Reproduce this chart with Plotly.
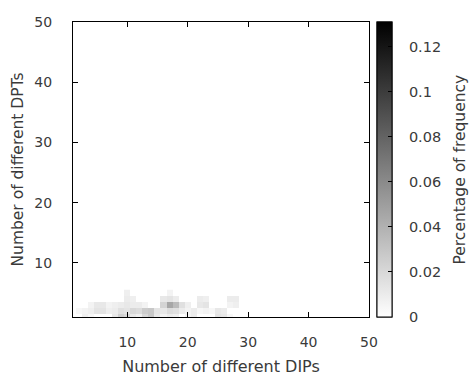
import plotly.graph_objects as go

# Number of different DIPs (columns) and DPTs (rows)
dips = list(range(1, 31))
dpts = [1, 2, 3, 4, 5]

# Percentage of frequency, one list per DPT row (x = 1..30)
row_dpt1 = [0, 0, 0.008, 0.004, 0, 0, 0, 0.012, 0.024, 0.020, 0.012, 0.008, 0.020, 0.028, 0.012,
            0.006, 0.010, 0.008, 0, 0.006, 0.010, 0, 0, 0, 0.014, 0.012, 0.004, 0, 0, 0]
row_dpt2 = [0, 0.004, 0.006, 0.008, 0.014, 0.014, 0.008, 0.010, 0.016, 0.014, 0.020, 0.018, 0.026, 0.028, 0.014,
            0.012, 0.018, 0.016, 0.010, 0.006, 0.010, 0.004, 0.006, 0.004, 0.012, 0.010, 0, 0, 0, 0]
row_dpt3 = [0, 0, 0, 0.006, 0.012, 0.012, 0.006, 0.008, 0.010, 0.012, 0.010, 0.010, 0.006, 0, 0,
            0.022, 0.045, 0.035, 0.016, 0.008, 0, 0.012, 0.014, 0, 0, 0, 0.006, 0.008, 0, 0]
row_dpt4 = [0, 0, 0, 0, 0, 0, 0, 0, 0, 0.010, 0.008, 0, 0, 0, 0,
            0.012, 0.014, 0.010, 0, 0, 0, 0.010, 0.008, 0, 0, 0, 0.010, 0.010, 0, 0]
row_dpt5 = [0, 0, 0, 0, 0, 0, 0, 0, 0, 0.008, 0, 0, 0, 0, 0,
            0, 0.006, 0, 0, 0, 0, 0, 0, 0, 0, 0, 0, 0, 0, 0]

axis_ticks = [10, 20, 30, 40, 50]
cbar_ticks = [0, 0.02, 0.04, 0.06, 0.08, 0.1, 0.12]

z = [row_dpt1, row_dpt2, row_dpt3, row_dpt4, row_dpt5]

FONT = "DejaVu Sans"
TXT = "#3a3a3a"
GRAYS = [[0, "#ffffff"], [1, "#000000"]]

cb_base = dict(
    x=1.027, xanchor="left", xref="paper", xpad=0, ypad=0,
    y=0.5, yanchor="middle", len=1.0, lenmode="fraction",
    thickness=15, thicknessmode="pixels",
    outlinewidth=1, outlinecolor="black",
    tickvals=cbar_ticks,
)

fig = go.Figure()
# colorbar carrying the tick labels
fig.add_trace(go.Heatmap(
    x=dips, y=dpts, z=z, zmin=0, zmax=0.131, colorscale=GRAYS,
    colorbar=dict(**cb_base, ticks="outside", ticklen=14, tickcolor="rgba(0,0,0,0)",
                  tickfont=dict(family=FONT, size=14.5, color=TXT)),
    hoverinfo="skip",
))
# same data, colorbar carrying the small inside tick marks (drawn on top)
fig.add_trace(go.Heatmap(
    x=dips, y=dpts, z=z, zmin=0, zmax=0.131, colorscale=GRAYS,
    colorbar=dict(**cb_base, ticks="inside", ticklen=4, tickcolor="black", showticklabels=False),
    hoverinfo="skip",
))

axis_common = dict(
    showline=True, linecolor="black", linewidth=1, mirror="ticks",
    ticks="inside", ticklen=5, tickcolor="black",
    tickvals=axis_ticks, showgrid=False, zeroline=False, automargin=False,
    tickfont=dict(family=FONT, size=14, color=TXT),
)

fig.update_layout(
    width=470, height=376,
    margin=dict(l=73, r=101, t=22, b=59, pad=0),
    paper_bgcolor="white", plot_bgcolor="white",
    xaxis=dict(range=[1, 50], title=dict(text="Number of different DIPs", standoff=14,
               font=dict(family=FONT, size=16, color=TXT)), ticklabelstandoff=12, **axis_common),
    yaxis=dict(range=[1, 50], title=dict(text="Number of different DPTs", standoff=6,
               font=dict(family=FONT, size=15.5, color=TXT)), ticklabelstandoff=17, **axis_common),
    font=dict(family=FONT, color=TXT),
    annotations=[dict(
        text="Percentage of frequency", xref="paper", yref="paper",
        x=1.3074, y=0.5, xanchor="center", yanchor="middle", textangle=-90,
        showarrow=False, font=dict(family=FONT, size=15.5, color=TXT),
    )],
)

fig.write_html("out.html", config={"displayModeBar": False},
               post_script="document.body.style.margin='0';document.body.style.overflow='hidden';")
